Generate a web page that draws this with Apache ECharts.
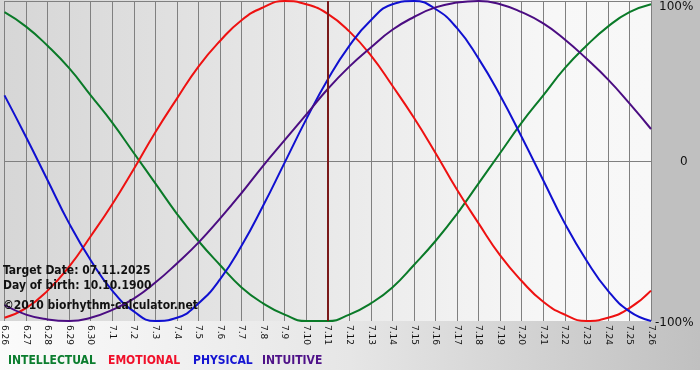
<!DOCTYPE html>
<html>
<head>
<meta charset="utf-8">
<script src="https://cdn.jsdelivr.net/npm/echarts@6/dist/echarts.min.js"></script>
<style>
  html, body {margin: 0; padding: 0; background: #fff;}
  #chart {width: 700px; height: 380px;}
</style>
</head>
<body>
<div id="chart"></div>
<script>
// days shown on the axis
const days = ['6.26','6.27','6.28','6.29','6.30','7.1','7.2','7.3','7.4','7.5','7.6','7.7','7.8','7.9','7.10',
  '7.11','7.12','7.13','7.14','7.15','7.16','7.17','7.18','7.19','7.20','7.21','7.22','7.23','7.24','7.25','7.26'];

// values in percent
const intellectual = [93,84,72,58,41,24,5,-14,-33,-50,-65,-79,-89,-96,-100,-100,-96,-89,-79,-65,-50,-33,-14,5,24,41,58,72,84,93,98];
const emotional = [-98,-92,-81,-66,-47,-27,-5,18,39,59,75,88,96,100,98,92,81,66,47,27,5,-18,-39,-59,-75,-88,-96,-100,-98,-92,-81];
const physical = [41,15,-12,-39,-62,-81,-94,-100,-98,-89,-74,-53,-28,-1,26,51,72,88,98,100,95,83,64,41,15,-12,-39,-62,-81,-94,-100];
const intuitive = [-90,-96,-99,-100,-98,-93,-86,-76,-64,-51,-36,-20,-3,13,29,45,59,71,82,90,96,99,100,98,93,86,76,64,51,36,20];

const targetDay = '7.11';
const infoLines = ['Target Date: 07.11.2025', 'Day of birth: 10.10.1900', '\u00a92010 biorhythm-calculator.net'];

const names = ['INTELLECTUAL', 'EMOTIONAL', 'PHYSICAL', 'INTUITIVE'];
const colors = ['#0a7a28', '#ee1111', '#1010d0', '#4b0d82'];
const legendColors = ['#0b7d2e', '#f0102a', '#1414d2', '#4e1188'];

const chart = echarts.init(document.getElementById('chart'));
const font = 'DejaVu Sans';
const textFont = 'bold 12px "DejaVu Sans Condensed", "DejaVu Sans"';

const lineSeries = (name, data, color) => ({
  name: name,
  type: 'line',
  smooth: true,
  symbol: 'none',
  data: data,
  lineStyle: {color: color, width: 2},
  itemStyle: {color: color},
  z: 3
});

let series = [
  lineSeries(names[0], intellectual, colors[0]),
  lineSeries(names[1], emotional, colors[1]),
  lineSeries(names[2], physical, colors[2]),
  lineSeries(names[3], intuitive, colors[3])
];
// target date marker
series[0].markLine = {
  silent: true,
  symbol: 'none',
  label: {show: false},
  lineStyle: {color: '#7a1a1a', width: 2, type: 'solid'},
  data: [{xAxis: targetDay}]
};

const legendX = [8, 108, 193, 262];
let graphic = [
  // backgrounds
  {type: 'rect', z: -10, silent: true, shape: {x: 0, y: 0, width: 700, height: 370},
    style: {fill: new echarts.graphic.LinearGradient(0, 0, 1, 0, [
      {offset: 0, color: '#fbfbfb'}, {offset: 0.5, color: '#e6e6e6'}, {offset: 1, color: '#c0c0c0'}])}},
  {type: 'rect', z: -9, silent: true, shape: {x: 651, y: 0, width: 49, height: 321},
    style: {fill: '#c0c0c0'}},
  {type: 'rect', z: -9, silent: true, shape: {x: 0, y: 0, width: 651, height: 321},
    style: {fill: new echarts.graphic.LinearGradient(0, 0, 1, 0, [
      {offset: 0, color: '#d6d6d6'}, {offset: 0.85, color: '#f7f7f7'}, {offset: 1, color: '#f8f8f8'}])}},
  {type: 'rect', z: -9, silent: true, shape: {x: 0, y: 370, width: 700, height: 10},
    style: {fill: '#ffffff'}}
];
infoLines.forEach((t, i) => {
  graphic.push({type: 'text', left: 3, top: [265, 280, 300][i], z: 5, silent: true,
    style: {text: t, font: textFont, fill: '#111'}});
});
names.forEach((n, i) => {
  graphic.push({type: 'text', left: legendX[i], top: 355, z: 5, silent: true,
    style: {text: n, font: textFont, fill: legendColors[i]}});
});

const option = {
  animation: false,
  backgroundColor: 'transparent',
  textStyle: {fontFamily: font},
  grid: {left: 0, right: 49, top: 1, bottom: 59, containLabel: false},
  xAxis: {
    type: 'category',
    boundaryGap: false,
    data: days,
    axisLine: {show: false},
    axisTick: {show: true, length: 3, lineStyle: {color: '#808080'}},
    splitLine: {show: true, lineStyle: {color: '#808080', width: 1}},
    axisLabel: {rotate: -90, interval: 0, fontSize: 9, color: '#111', margin: 4, fontFamily: font}
  },
  yAxis: {
    type: 'value',
    position: 'right',
    min: -100,
    max: 100,
    interval: 100,
    axisLine: {show: false},
    axisTick: {show: false},
    splitLine: {show: true, lineStyle: {color: ['transparent', '#808080', '#808080'], width: 1}},
    axisLabel: {
      margin: 4,
      formatter: v => v === 100 ? '{a|100%}' : (v === 0 ? '{b|0}' : '{c|-100%}'),
      rich: {
        a: {font: 'bold 12px "' + font + '"', color: '#111', padding: [11, 0, 0, 4]},
        b: {font: 'bold 12px "' + font + '"', color: '#111', padding: [2, 0, 0, 25]},
        c: {font: 'bold 12px "' + font + '"', color: '#111', padding: [3, 0, 0, 0]}
      }
    }
  },
  graphic: graphic,
  series: series
};

chart.setOption(option);
</script>
</body>
</html>
